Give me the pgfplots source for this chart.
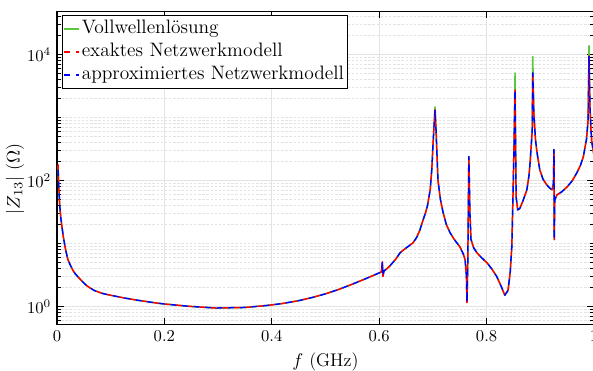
\RequirePackage{fix-cm}
\documentclass[border=0pt]{standalone}
\usepackage{pgfplots}
\pgfplotsset{compat=1.18}
\definecolor{vgreen}{RGB}{90,200,60}
\pgfplotstableread{
f g m
0.002 170 180
0.0027 110 110
0.0037 71 71
0.005 42 42
0.006 33 33
0.0075 24 24
0.0093 18.5 18.5
0.012 12.5 12.5
0.016 8 8
0.0205 5.5 5.5
0.025 4.5 4.5
0.03 3.7 3.7
0.034 3.3 3.3
0.039 2.95 2.95
0.045 2.6 2.6
0.05 2.35 2.35
0.055 2.15 2.15
0.062 1.95 1.95
0.07 1.78 1.78
0.085 1.6 1.6
0.1 1.5 1.5
0.125 1.36 1.36
0.15 1.25 1.25
0.185 1.13 1.13
0.2 1.09 1.09
0.247 1.0 1.0
0.296 0.94 0.94
0.35 0.96 0.96
0.39 1.03 1.03
0.42 1.11 1.11
0.45 1.23 1.23
0.475 1.38 1.38
0.5 1.58 1.58
0.525 1.86 1.86
0.55 2.25 2.25
0.575 2.75 2.75
0.6 3.4 3.4
0.604 3.5 3.5
0.606 4.6 5.1
0.607 3.1 2.97
0.609 3.65 3.65
0.615 4.0 4.0
0.62 4.4 4.4
0.63 5.5 5.5
0.639 7.1 7.1
0.648 8.2 8.2
0.656 9.2 9.2
0.663 10.2 10.2
0.67 12.5 12.5
0.676 16.5 16.5
0.682 24 24
0.686 30 30
0.69 40 40
0.695 71 71
0.698 150 150
0.700 340 340
0.702 700 700
0.704 1470 1320
0.706 600 600
0.7095 100 100
0.714 50 50
0.719 31 31
0.725 20 20
0.732 14.8 14.8
0.740 11.5 11.5
0.750 8.9 8.9
0.756 7 7
0.760 5.5 5.5
0.7625 3.0 3.0
0.7635 1.15 1.15
0.765 5 5
0.767 240 240
0.769 30 30
0.771 11.5 11.5
0.776 8.5 8.5
0.782 7.1 7.1
0.790 6 6
0.801 4.9 4.9
0.810 3.9 3.9
0.819 2.97 2.97
0.828 2.0 2.0
0.834 1.5 1.5
0.840 1.8 1.8
0.844 3.5 3.5
0.847 8.9 8.9
0.849 49 49
0.851 340 340
0.853 5100 2750
0.855 55 55
0.858 34 34
0.862 36 36
0.868 48 48
0.875 71 71
0.879 120 120
0.881 190 190
0.885 630 630
0.886 9300 5100
0.888 1180 1180
0.891 450 450
0.894 275 275
0.899 148 148
0.905 105 105
0.912 85 85
0.918 75 75
0.922 71 71
0.9245 90 90
0.9255 310 310
0.926 11.5 11.5
0.927 49 49
0.931 59 59
0.940 66 66
0.950 79 79
0.960 100 100
0.968 132 132
0.975 175 175
0.980 235 235
0.986 450 450
0.989 910 910
0.9907 13800 9550
0.9925 1500 1500
0.9944 630 630
0.996 400 400
1.0 250 250
}\datatable
\begin{document}
\begin{tikzpicture}
\begin{axis}[
  at={(0,0)}, anchor=south west,
  scale only axis, width=323.5pt, height=188.3pt,
  ymode=log,
  xmin=0, xmax=1, ymin=0.52, ymax=4.8e4,
  xtick={0,0.2,0.4,0.6,0.8,1},
  xticklabels={0,0.2,0.4,0.6,0.8,1},
  ytick={1,100,10000},
  minor ytick={0.6,0.7,0.8,0.9,2,3,4,5,6,7,8,9,10,20,30,40,50,60,70,80,90,200,300,400,500,600,700,800,900,1000,2000,3000,4000,5000,6000,7000,8000,9000,20000,30000,40000},
  minor x tick num=0,
  tick align=inside,
  major tick length=4pt, minor tick length=2.4pt,
  tick style={black, line width=0.5pt},
  axis line style={black, line width=0.7pt},
  xmajorgrids, ymajorgrids, yminorgrids,
  major grid style={gray!22, line width=0.5pt},
  minor grid style={gray!22, line width=0.4pt, dash pattern=on 1.5pt off 1pt},
  tick label style={font=\fontsize{10}{12}\selectfont},
  label style={font=\fontsize{11}{13}\selectfont},
  xlabel={$f$ (GHz)},
  ylabel={$|Z_{13}|$ ($\Omega$)},
  xlabel style={at={(axis description cs:0.5,-0.1354)}, anchor=base},
  ylabel style={at={(axis description cs:-0.0696,0.465)}, anchor=base},
  legend style={at={(0.0087,0.989)}, anchor=north west, draw=black, line width=0.5pt, fill=white,
    font=\fontsize{11.7}{13.5}\selectfont, inner sep=1pt, row sep=0pt,
    nodes={inner xsep=1pt, inner ysep=1.2pt, text height=8.6pt, text depth=3pt}},
  legend cell align=left,
  legend image code/.code={\draw[#1, dash phase=0pt] (0pt,0pt) -- (9pt,0pt);},
]
\addplot[vgreen, line width=0.9pt, line join=round] table[x=f, y=g] {\datatable};
\addlegendentry{Vollwellenlösung}
\addplot[red, line width=0.9pt, line join=round, dash pattern=on 3.5pt off 3.5pt] table[x=f, y=m] {\datatable};
\addlegendentry{exaktes Netzwerkmodell}
\addplot[blue, line width=0.9pt, line join=round, dash pattern=on 3.5pt off 3.5pt, dash phase=3.5pt] table[x=f, y=m] {\datatable};
\addlegendentry{approximiertes Netzwerkmodell}
\end{axis}
\pgfresetboundingbox
\path[use as bounding box] (-34.3pt,-28.1pt) rectangle (322.9pt,195.3pt);
\end{tikzpicture}
\end{document}
